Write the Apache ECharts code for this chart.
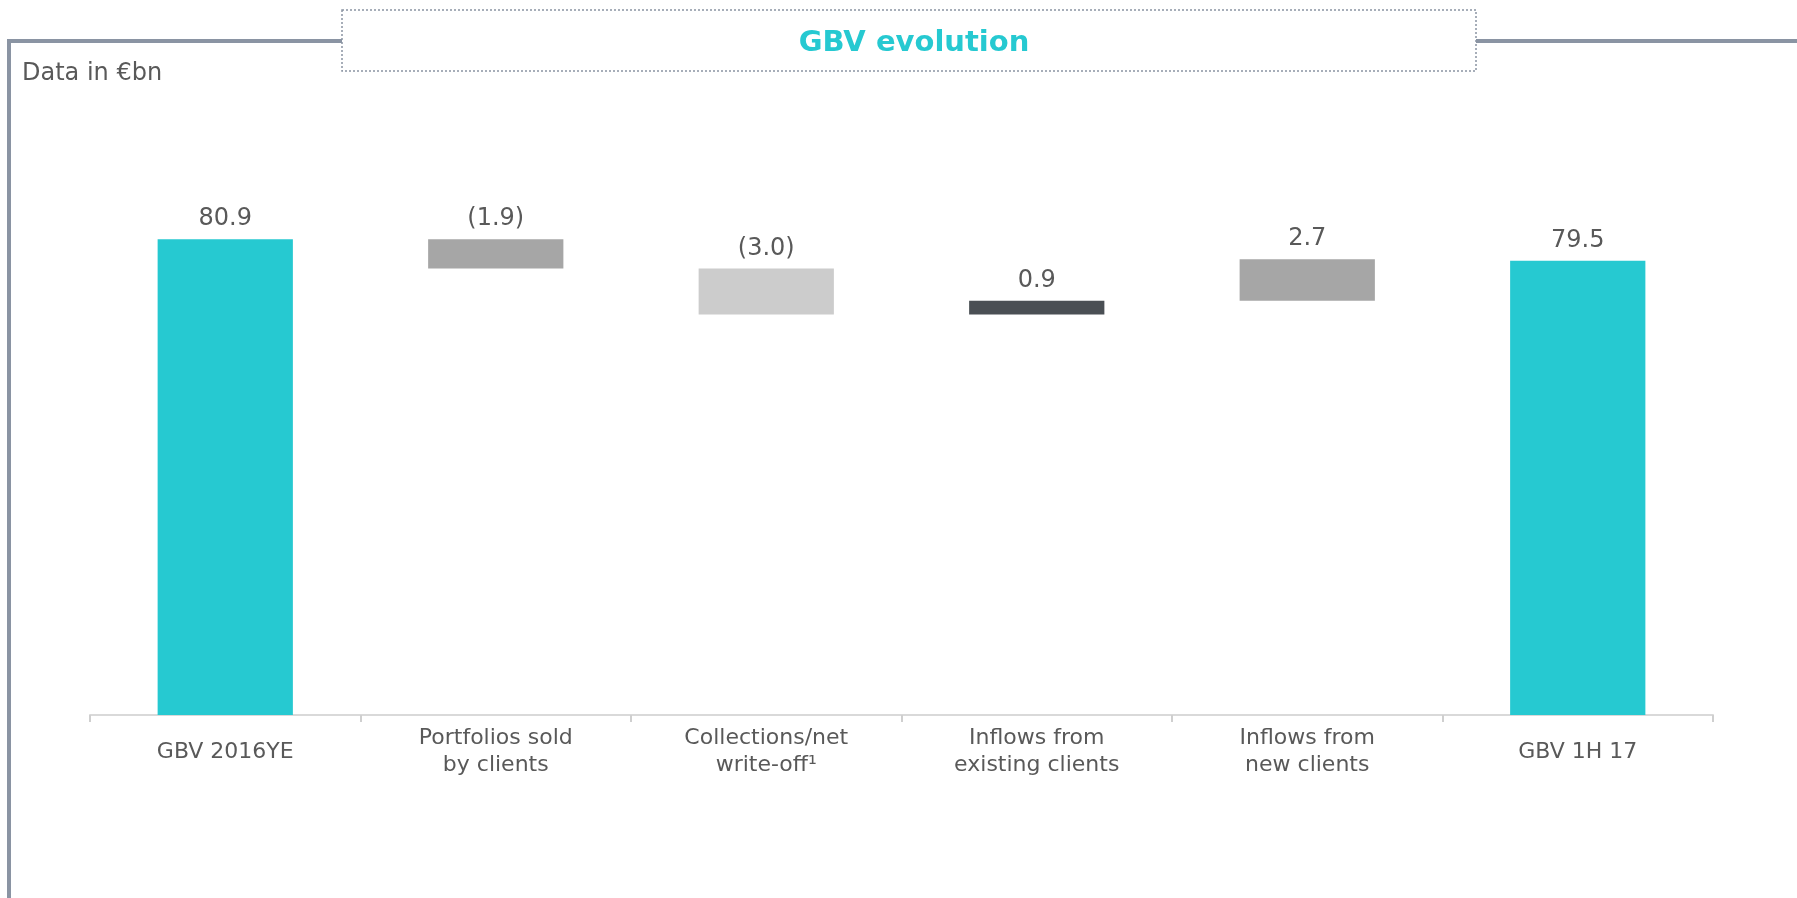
<!DOCTYPE html>
<html>
<head>
<meta charset="utf-8">
<title>GBV evolution</title>
<script src="https://cdn.jsdelivr.net/npm/echarts@6/dist/echarts.min.js"></script>
<style>
  html, body { margin: 0; padding: 0; background: #fff; }
  #chart { width: 1797px; height: 898px; }
</style>
</head>
<body>
<div id="chart"></div>
<script>
// GBV waterfall — data in €bn
const categories = [
  'GBV 2016YE',
  'Portfolios sold\nby clients',
  'Collections/net\nwrite-off¹',
  'Inflows from\nexisting clients',
  'Inflows from\nnew clients',
  'GBV 1H 17',
];
const values = [80.9, -1.9, -3.0, 0.9, 2.7, 79.5];
const isTotal = [true, false, false, false, false, true];
const barColors = ['#26C9D1', '#A6A6A6', '#CCCCCC', '#4A4F54', '#A6A6A6', '#26C9D1'];

const TEXT = '#595959';
const FRAME = '#8A94A3';
const FONT = 'DejaVu Sans';

// build invisible base + visible step for each category
const baseData = [];
const stepData = [];
let running = 0;
values.forEach((v, i) => {
  if (isTotal[i]) {
    baseData.push(0);
    stepData.push(v);
    running = v;
  } else if (v < 0) {
    baseData.push(+(running + v).toFixed(2));
    stepData.push(-v);
    running += v;
  } else {
    baseData.push(+running.toFixed(2));
    stepData.push(v);
    running += v;
  }
});

function fmt(v) {
  return v < 0 ? '(' + Math.abs(v).toFixed(1) + ')' : v.toFixed(1);
}

const chart = echarts.init(document.getElementById('chart'));

chart.setOption({
  animation: false,
  textStyle: { fontFamily: FONT },
  title: {
    text: 'GBV evolution',
    left: 909,
    top: 24,
    textAlign: 'center',
    textStyle: { color: '#26C9D1', fontSize: 29, fontWeight: 'bold', fontFamily: FONT },
  },
  graphic: [
    // frame: left + top border broken by the title box
    {
      type: 'polyline',
      shape: { points: [[9, 898], [9, 41], [342, 41]] },
      style: { stroke: FRAME, lineWidth: 4, fill: null },
      z: 1,
    },
    {
      type: 'line',
      shape: { x1: 1476, y1: 41, x2: 1797, y2: 41 },
      style: { stroke: FRAME, lineWidth: 4 },
      z: 1,
    },
    {
      type: 'rect',
      shape: { x: 342, y: 10, width: 1134, height: 61 },
      style: { fill: '#fff', stroke: FRAME, lineWidth: 1.5, lineDash: [2, 2] },
      z: 0,
    },
    {
      type: 'text',
      x: 22,
      y: 62,
      style: {
        text: 'Data in €bn',
        fill: TEXT,
        font: '24px "DejaVu Sans"',
      },
    },
  ],
  grid: { left: 90, right: 84, top: 99, bottom: 183 },
  xAxis: {
    type: 'category',
    data: categories,
    axisLine: { lineStyle: { color: '#D9D9D9', width: 2 } },
    axisTick: { show: true, length: 7, lineStyle: { color: '#CFCFCF', width: 2 } },
    axisLabel: {
      color: TEXT,
      fontSize: 22,
      lineHeight: 27,
      margin: 37,
      verticalAlign: 'middle',
      interval: 0,
    },
  },
  yAxis: {
    type: 'value',
    min: 50,
    max: 90,
    show: false,
    splitLine: { show: false },
  },
  series: [
    {
      name: 'base',
      type: 'bar',
      stack: 'gbv',
      barWidth: '50%',
      itemStyle: { color: 'transparent' },
      emphasis: { disabled: true },
      data: baseData,
    },
    {
      name: 'GBV',
      type: 'bar',
      stack: 'gbv',
      barWidth: '50%',
      emphasis: { disabled: true },
      label: {
        show: true,
        position: 'top',
        distance: 8,
        color: TEXT,
        fontSize: 24,
        formatter: (p) => fmt(values[p.dataIndex]),
      },
      data: stepData.map((v, i) => ({ value: v, itemStyle: { color: barColors[i] } })),
    },
  ],
});

window.addEventListener('resize', () => chart.resize());
</script>
</body>
</html>
